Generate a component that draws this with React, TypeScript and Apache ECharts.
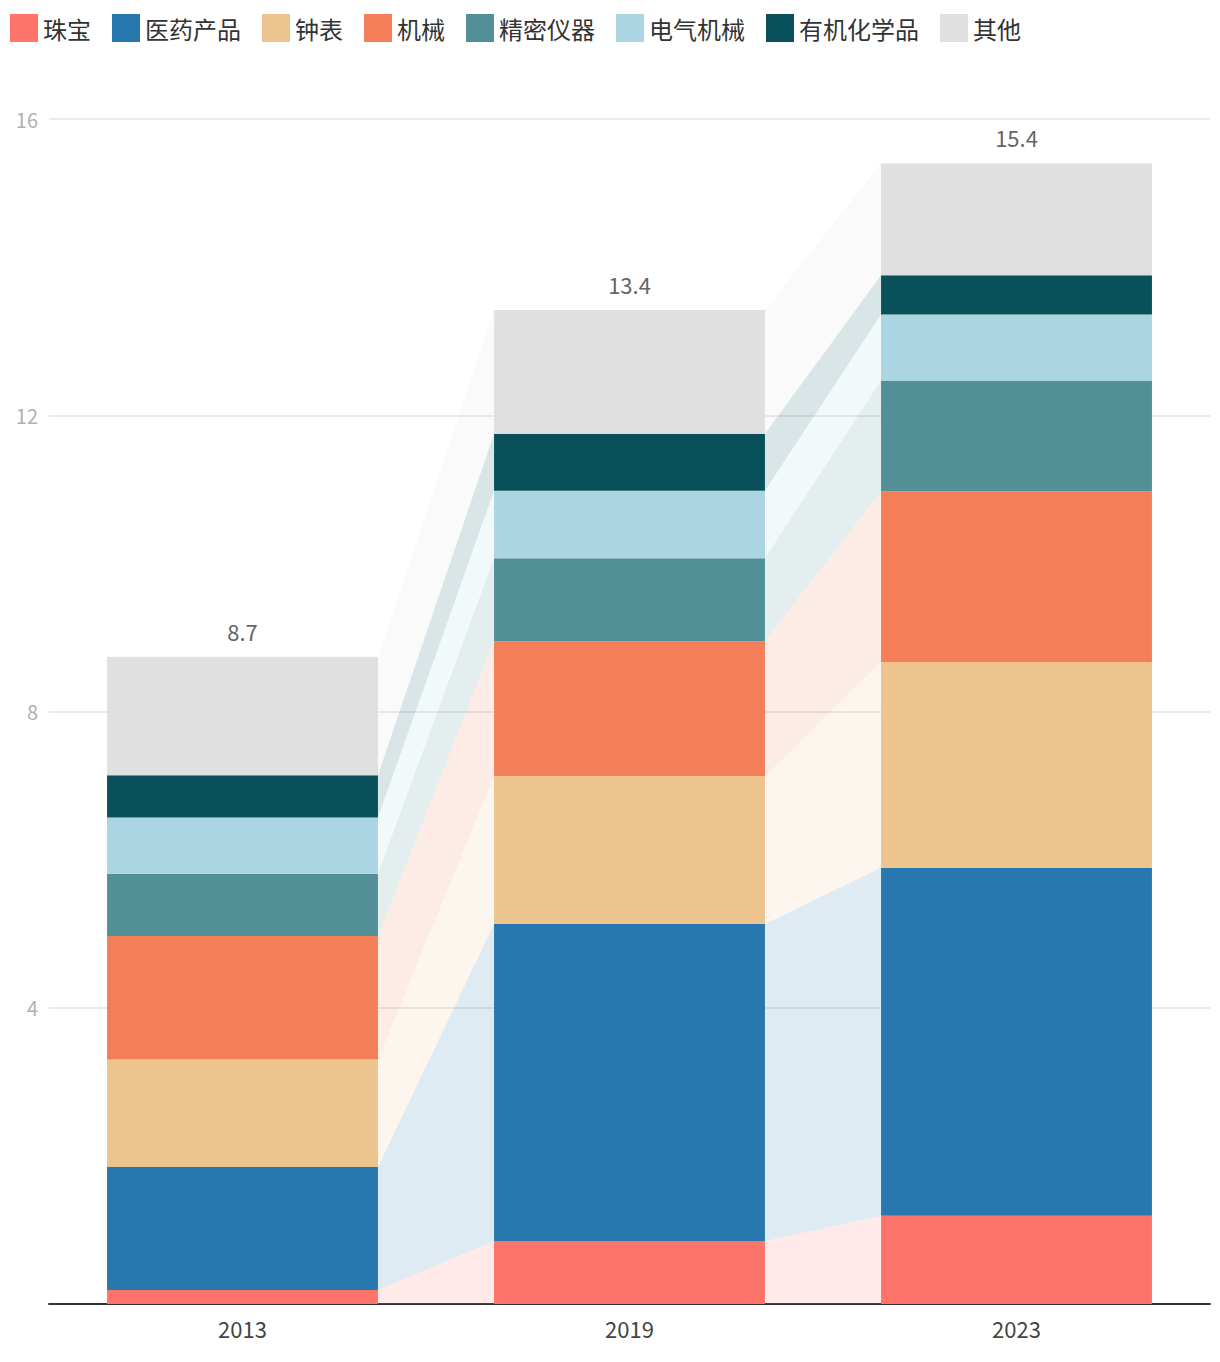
import React, { useEffect, useRef } from "react";
import * as echarts from "echarts";

const years = ["2013", "2019", "2023"];
const names = ["珠宝", "医药产品", "钟表", "机械", "精密仪器", "电气机械", "有机化学品", "其他"];
const colors = ["#FF746A", "#2778AE", "#EDC48E", "#F37E58", "#528F96", "#ABD5E2", "#08515B", "#E0E0E0"];

const jewelry = [0.19, 0.85, 1.19];
const pharma = [1.66, 4.28, 4.7];
const watches = [1.45, 2.0, 2.78];
const machinery = [1.67, 1.82, 2.3];
const precision = [0.84, 1.12, 1.5];
const electrical = [0.76, 0.91, 0.89];
const organic = [0.57, 0.77, 0.53];
const others = [1.6, 1.67, 1.51];

const seriesValues = [jewelry, pharma, watches, machinery, precision, electrical, organic, others];

const yTicks = { min: 0, max: 16, interval: 4 };

export default function App() {
  const ref = useRef<HTMLDivElement>(null);

  useEffect(() => {
    document.body.style.margin = "0";
    if (!ref.current) return;
    const chart = echarts.init(ref.current, undefined, { renderer: "svg" });

    const totals = years.map((_, j) => seriesValues.reduce((s, arr) => s + arr[j], 0));

    const bottoms: number[][] = [];
    const tops: number[][] = [];
    seriesValues.forEach((arr, i) => {
      bottoms.push(arr.map((_, j) => (i === 0 ? 0 : tops[i - 1][j])));
      tops.push(arr.map((v, j) => bottoms[i][j] + v));
    });

    const bandData: any[] = [];
    seriesValues.forEach((_, i) => {
      for (let g = 0; g < years.length - 1; g++) {
        bandData.push({
          value: [g, bottoms[i][g], tops[i][g], bottoms[i][g + 1], tops[i][g + 1]],
          itemStyle: { color: colors[i] },
        });
      }
    });

    const barSeries = names.map((name, i) => ({
      name,
      type: "bar",
      stack: "total",
      barWidth: "70%",
      data: seriesValues[i],
      itemStyle: { color: colors[i] },
      z: 3,
      label:
        i === names.length - 1
          ? {
              show: true,
              position: "top",
              distance: 15,
              color: "#666",
              fontSize: 22,
              formatter: (p: any) => totals[p.dataIndex].toFixed(1),
            }
          : { show: false },
    }));

    const bandSeries = {
      type: "custom",
      silent: true,
      z: 1,
      encode: { x: 0, y: [1, 2, 3, 4] },
      data: bandData,
      renderItem: (params: any, api: any) => {
        const g = api.value(0);
        const catW = api.size([1, 0])[0];
        const half = catW * 0.35;
        const lx = api.coord([g, 0])[0] + half;
        const rx = api.coord([g + 1, 0])[0] - half;
        const yb0 = api.coord([g, api.value(1)])[1];
        const yt0 = api.coord([g, api.value(2)])[1];
        const yb1 = api.coord([g + 1, api.value(3)])[1];
        const yt1 = api.coord([g + 1, api.value(4)])[1];
        return {
          type: "polygon",
          shape: { points: [[lx, yb0], [rx, yb1], [rx, yt1], [lx, yt0]] },
          style: { fill: api.visual("color"), opacity: 0.15 },
        };
      },
    };

    chart.setOption({
      animation: false,
      textStyle: { fontFamily: "'Noto Sans CJK SC', 'Noto Sans', sans-serif" },
      legend: {
        data: names,
        left: 10,
        top: 14,
        padding: 0,
        itemWidth: 28,
        itemHeight: 28,
        itemGap: 21,
        icon: "rect",
        textStyle: { fontSize: 24, color: "#333" },
      },
      grid: { left: 49, right: 10, top: 119, bottom: 58, containLabel: false },
      xAxis: {
        type: "category",
        data: years,
        axisLine: { lineStyle: { color: "#333", width: 2 } },
        axisTick: { show: false },
        axisLabel: { fontSize: 22, color: "#444", margin: 13 },
      },
      yAxis: {
        type: "value",
        min: yTicks.min,
        max: yTicks.max,
        interval: yTicks.interval,
        axisLine: { show: false },
        axisTick: { show: false },
        axisLabel: { fontSize: 20, color: "#b0b0b0", margin: 11, showMinLabel: false },
        splitLine: { lineStyle: { color: "#e3e3e3", width: 1.5 } },
      },
      series: [bandSeries, ...barSeries],
    });

    return () => chart.dispose();
  }, []);

  return <div ref={ref} style={{ width: 1220, height: 1362 }} />;
}
